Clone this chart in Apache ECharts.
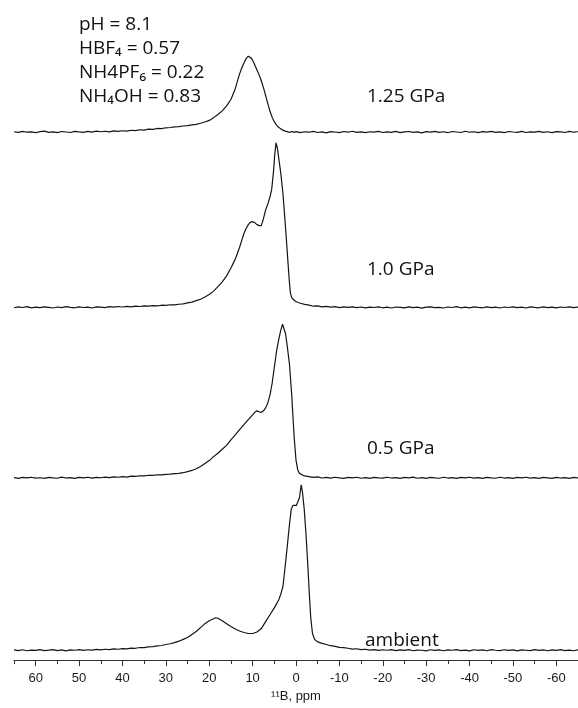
<!DOCTYPE html>
<html>
<head>
<meta charset="utf-8">
<script src="https://cdn.jsdelivr.net/npm/echarts@6/dist/echarts.min.js"></script>
<style>
html,body{margin:0;padding:0;background:#fff;}
#chart{width:578px;height:708px;}
</style>
</head>
<body>
<div id="chart"></div>
<script>
// ---- data ----
var tickLabels = [60, 50, 40, 30, 20, 10, 0, -10, -20, -30, -40, -50, -60];
var minorTicks = [65, 55, 45, 35, 25, 15, 5, -5, -15, -25, -35, -45, -55, -65];
var spectrumLabels = ['1.25 GPa', '1.0 GPa', '0.5 GPa', 'ambient'];
var annotationLines = ['pH = 8.1', 'HBF\u2084 = 0.57', 'NH4PF\u2086 = 0.22', 'NH\u2084OH = 0.83'];
var baselineOffsets = [536, 358, 185, 10];

var spec125 = [[65,0.3],[64,-0.4],[63,0.6],[62,-0.2],[61,0.1],[60,-0.7],[59,0.4],[58,0.9],[57,-0.3],[56,0.2],[55,-0.6],[54,0.5],[53,0.0],[52,-0.5],[51,0.7],[50,0.1],[49,-0.4],[48,0.6],[47,-0.1],[46,0.9],[45,0.3],[44,0.8],[43,0.2],[42,1.1],[41,0.6],[40,1.3],[39,0.9],[38,1.8],[37,1.4],[36,2.3],[35,2.0],[34,2.9],[33,2.7],[32,3.6],[31,3.4],[30,4.3],[29,4.6],[28,5.2],[27,5.4],[26,6.1],[25,6.4],[24,7.2],[23,7.8],[22,8.9],[21,10.2],[20,11.8],[19,14.6],[18,17.8],[17,21.5],[16,26.5],[15,33],[14,44],[13,59],[12.5,65],[12,70],[11.5,74.5],[11,77],[10.7,77.5],[10.3,75],[9.8,71],[9.4,67],[9,63],[8.5,58],[8,52],[7.5,45],[7,37],[6.5,29],[6,21],[5.5,15],[5,10.5],[4.5,7],[4,4.8],[3.5,3.2],[3,1.9],[2.5,0.9],[2,0.4],[1.5,-0.5],[1,0.6],[0.5,-0.3],[0,0.4],[-1,-0.6],[-2,0.3],[-3,-0.2],[-4,0.7],[-5,-0.5],[-6,0.2],[-7,-0.8],[-8,0.4],[-9,0.0],[-10,-0.6],[-11,0.5],[-12,-0.2],[-13,0.8],[-14,-0.4],[-15,0.1],[-16,-0.7],[-17,0.3],[-18,-0.1],[-19,0.6],[-20,-0.5],[-21,0.2],[-22,-0.3],[-23,0.7],[-24,-0.6],[-25,0.1],[-26,0.5],[-27,-0.4],[-28,0.2],[-29,-0.8],[-30,0.4],[-31,-0.1],[-32,0.6],[-33,-0.3],[-34,0.3],[-35,-0.7],[-36,0.5],[-37,0.0],[-38,-0.5],[-39,0.8],[-40,-0.2],[-41,0.3],[-42,-0.6],[-43,0.4],[-44,-0.1],[-45,0.7],[-46,-0.4],[-47,0.2],[-48,-0.6],[-49,0.5],[-50,0.0],[-51,-0.3],[-52,0.6],[-53,-0.5],[-54,0.2],[-55,-0.1],[-56,0.7],[-57,-0.4],[-58,0.3],[-59,-0.6],[-60,0.4],[-61,0.1],[-62,-0.5],[-63,0.6],[-64,-0.2],[-65,0.3]];

var spec10 = [[65,-0.4],[64,0.5],[63,-0.1],[62,0.7],[61,-0.5],[60,0.2],[59,-0.3],[58,0.6],[57,0.0],[56,-0.6],[55,0.4],[54,-0.2],[53,0.8],[52,0.1],[51,-0.4],[50,0.5],[49,-0.1],[48,0.3],[47,-0.6],[46,0.6],[45,0.2],[44,-0.2],[43,0.7],[42,0.3],[41,0.9],[40,0.4],[39,1.0],[38,0.6],[37,1.2],[36,0.9],[35,1.5],[34,1.2],[33,1.8],[32,1.6],[31,2.2],[30,2.0],[29,2.7],[28,2.5],[27,3.2],[26,3.6],[25,4.5],[24,5.4],[23,6.8],[22,8.3],[21,10.5],[20,13],[19,16.5],[18,21],[17,26],[16,32],[15,40],[14,49],[13.5,55],[13,61],[12.5,68],[12,75],[11.5,80],[11,84],[10.5,86.5],[10,87],[9.5,86],[9,84],[8.5,83],[8,83],[7.5,90],[7,99],[6.5,105],[6,112],[5.6,120],[5.2,137],[4.9,155],[4.6,167],[4.3,162],[4,152],[3.5,136],[3,115],[2.6,92],[2.2,68],[1.9,49],[1.6,30],[1.3,15],[1,10],[0.5,7.5],[0,6],[-0.5,5],[-1,4.2],[-2,3.1],[-3,2.3],[-4,1.2],[-5,1.5],[-6,0.6],[-7,1.0],[-8,0.2],[-9,0.7],[-10,-0.2],[-11,0.5],[-12,0.0],[-13,0.6],[-14,-0.3],[-15,0.4],[-16,-0.5],[-17,0.3],[-18,-0.1],[-19,0.6],[-20,-0.4],[-21,0.2],[-22,-0.6],[-23,0.4],[-24,0.0],[-25,-0.5],[-26,0.6],[-27,-0.2],[-28,0.3],[-29,-0.7],[-30,0.2],[-31,0.5],[-32,-0.3],[-33,0.1],[-34,-0.6],[-35,0.4],[-36,-0.1],[-37,0.7],[-38,-0.4],[-39,0.2],[-40,-0.5],[-41,0.5],[-42,0.0],[-43,-0.4],[-44,0.6],[-45,-0.2],[-46,0.3],[-47,-0.6],[-48,0.4],[-49,-0.1],[-50,0.6],[-51,-0.3],[-52,0.2],[-53,-0.6],[-54,0.5],[-55,0.0],[-56,-0.4],[-57,0.6],[-58,-0.2],[-59,0.3],[-60,-0.5],[-61,0.4],[-62,-0.1],[-63,0.6],[-64,-0.3],[-65,0.2]];

var spec05 = [[65,0.2],[64,-0.5],[63,0.4],[62,-0.1],[61,0.6],[60,-0.3],[59,0.1],[58,-0.6],[57,0.5],[56,0.0],[55,-0.4],[54,0.7],[53,-0.2],[52,0.3],[51,-0.5],[50,0.4],[49,0.0],[48,0.6],[47,-0.3],[46,0.5],[45,0.1],[44,0.8],[43,0.3],[42,0.9],[41,0.6],[40,1.2],[39,0.8],[38,1.7],[37,1.5],[36,2.1],[35,2.0],[34,2.6],[33,2.5],[32,3.1],[31,3.0],[30,3.6],[29,3.7],[28,4.3],[27,4.6],[26,5.2],[25,6.3],[24,7.5],[23,9.2],[22,11.5],[21,14.5],[20,17.5],[19,21.5],[18,25],[17,29],[16,33],[15,38.5],[14,43.5],[13,49],[12,54],[11,59],[10,64],[9.5,66.5],[9,68],[8.5,67],[8,66.5],[7.5,68],[7,71],[6.5,76],[6,84],[5.5,96],[5,112],[4.5,128],[4,140],[3.5,150],[3.1,156],[2.8,156],[2.4,146],[2,133],[1.5,115],[1,85],[0.7,62],[0.4,40],[0,18],[-0.4,8],[-0.8,4.5],[-1.5,2.8],[-2,2.0],[-3,1.2],[-4,0.4],[-5,0.9],[-6,-0.2],[-7,0.5],[-8,-0.3],[-9,0.6],[-10,0.0],[-11,-0.5],[-12,0.4],[-13,-0.1],[-14,0.6],[-15,-0.4],[-16,0.2],[-17,-0.6],[-18,0.5],[-19,0.0],[-20,-0.3],[-21,0.6],[-22,-0.2],[-23,0.3],[-24,-0.6],[-25,0.4],[-26,-0.1],[-27,0.7],[-28,-0.4],[-29,0.2],[-30,-0.5],[-31,0.5],[-32,0.0],[-33,-0.4],[-34,0.6],[-35,-0.2],[-36,0.3],[-37,-0.6],[-38,0.4],[-39,-0.1],[-40,0.6],[-41,-0.3],[-42,0.2],[-43,-0.6],[-44,0.5],[-45,0.0],[-46,-0.4],[-47,0.6],[-48,-0.2],[-49,0.3],[-50,-0.5],[-51,0.4],[-52,-0.1],[-53,0.6],[-54,-0.3],[-55,0.2],[-56,-0.6],[-57,0.4],[-58,0.0],[-59,-0.5],[-60,0.5],[-61,-0.2],[-62,0.3],[-63,-0.5],[-64,0.4],[-65,-0.1]];

var specAmb = [[65,0.4],[64,-0.3],[63,0.5],[62,-0.5],[61,0.2],[60,-0.2],[59,0.6],[58,-0.4],[57,0.1],[56,0.7],[55,-0.3],[54,0.3],[53,-0.6],[52,0.4],[51,0.0],[50,0.6],[49,-0.2],[48,0.5],[47,0.1],[46,0.8],[45,0.3],[44,1.0],[43,0.6],[42,1.3],[41,1.0],[40,1.7],[39,1.4],[38,2.2],[37,2.0],[36,2.8],[35,2.7],[34,3.5],[33,3.6],[32,4.4],[31,4.8],[30,5.8],[29,6.6],[28,7.8],[27,9.2],[26,11],[25,13],[24,16],[23,19],[22,23],[21,27],[20,30],[19,32],[18.5,33],[18,32.5],[17,30],[16,27],[15,24],[14,21.5],[13,19.5],[12,18],[11,17],[10,17],[9,18.5],[8,22],[7,29],[6,36],[5,43],[4,51],[3.5,57],[3,65],[2.5,85],[2,106],[1.5,128],[1.1,143],[0.7,147],[0.3,148],[-0.1,147],[-0.5,147.5],[-0.8,155],[-1.2,168],[-1.5,160],[-1.9,143],[-2.3,118],[-2.7,88],[-3.1,55],[-3.4,33],[-3.8,17],[-4.3,11],[-5,8.5],[-6,7],[-7,5.8],[-8,4.6],[-9,3.9],[-10,3.0],[-11,2.6],[-12,2.0],[-13,1.2],[-14,1.5],[-15,0.6],[-16,1.0],[-17,0.2],[-18,0.7],[-19,-0.1],[-20,0.5],[-21,0.0],[-22,0.6],[-23,-0.4],[-24,0.3],[-25,-0.2],[-26,0.6],[-27,-0.5],[-28,0.2],[-29,0.0],[-30,-0.6],[-31,0.5],[-32,-0.2],[-33,0.4],[-34,-0.5],[-35,0.3],[-36,0.0],[-37,0.6],[-38,-0.3],[-39,0.2],[-40,-0.6],[-41,0.5],[-42,-0.1],[-43,0.4],[-44,-0.5],[-45,0.6],[-46,0.0],[-47,-0.3],[-48,0.5],[-49,-0.2],[-50,0.3],[-51,-0.6],[-52,0.4],[-53,0.0],[-54,-0.4],[-55,0.6],[-56,-0.2],[-57,0.3],[-58,-0.5],[-59,0.4],[-60,-0.1],[-61,0.6],[-62,-0.3],[-63,0.2],[-64,-0.5],[-65,0.3]];

var spectra = [spec125, spec10, spec05, specAmb];

// ---- chart ----
var chart = echarts.init(document.getElementById('chart'), null, {renderer: 'canvas'});
var lineColor = '#141414';
var textFont = '"Open Sans", "Noto Sans", "DejaVu Sans", sans-serif';

var series = spectra.map(function (s, i) {
  return {
    type: 'line',
    name: spectrumLabels[i],
    xAxisIndex: 0,
    yAxisIndex: 0,
    showSymbol: false,
    symbol: 'none',
    smooth: false,
    silent: true,
    lineStyle: {color: lineColor, width: 1.2},
    data: s.map(function (p) { return [p[0], p[1] + baselineOffsets[i]]; })
  };
});

var labelPos = [[367, 97], [367, 270], [367, 449], [365, 641]];
var annPos = [25, 49, 73, 97];
var graphics = [];
spectrumLabels.forEach(function (t, i) {
  graphics.push({type: 'text', x: labelPos[i][0], y: labelPos[i][1], silent: true,
    style: {text: t, font: '19px ' + textFont, fill: '#111', verticalAlign: 'middle', align: 'left'}});
});
annotationLines.forEach(function (t, i) {
  graphics.push({type: 'text', x: 79, y: annPos[i], silent: true,
    style: {text: t, font: '19px ' + textFont, fill: '#111', verticalAlign: 'middle', align: 'left'}});
});

chart.setOption({
  animation: false,
  backgroundColor: '#ffffff',
  grid: {left: 14, top: 0, width: 572, height: 670, containLabel: false},
  xAxis: [{
    type: 'value', min: -65, max: 65, inverse: true, position: 'bottom',
    axisLine: {show: true, onZero: false, lineStyle: {color: '#333', width: 1}},
    axisTick: {show: true, inside: false, length: 6, customValues: tickLabels, lineStyle: {color: '#333', width: 1}},
    axisLabel: {show: true, customValues: tickLabels, margin: 12, fontSize: 13, color: '#1a1a1a', fontFamily: '"Liberation Sans", Arial, sans-serif'},
    splitLine: {show: false},
    name: '\u00b9\u00b9B, ppm', nameLocation: 'middle', nameGap: 26,
    nameTextStyle: {fontSize: 13, color: '#1a1a1a', fontFamily: '"Liberation Sans", Arial, sans-serif'}
  }, {
    type: 'value', min: -65, max: 65, inverse: true, position: 'bottom',
    axisLine: {show: false, onZero: false},
    axisTick: {show: true, inside: false, length: 4, customValues: minorTicks, lineStyle: {color: '#333', width: 1}},
    axisLabel: {show: false},
    splitLine: {show: false}
  }],
  yAxis: {type: 'value', min: 0, max: 670, show: false, splitLine: {show: false}},
  series: series,
  graphic: graphics
});
</script>
</body>
</html>
